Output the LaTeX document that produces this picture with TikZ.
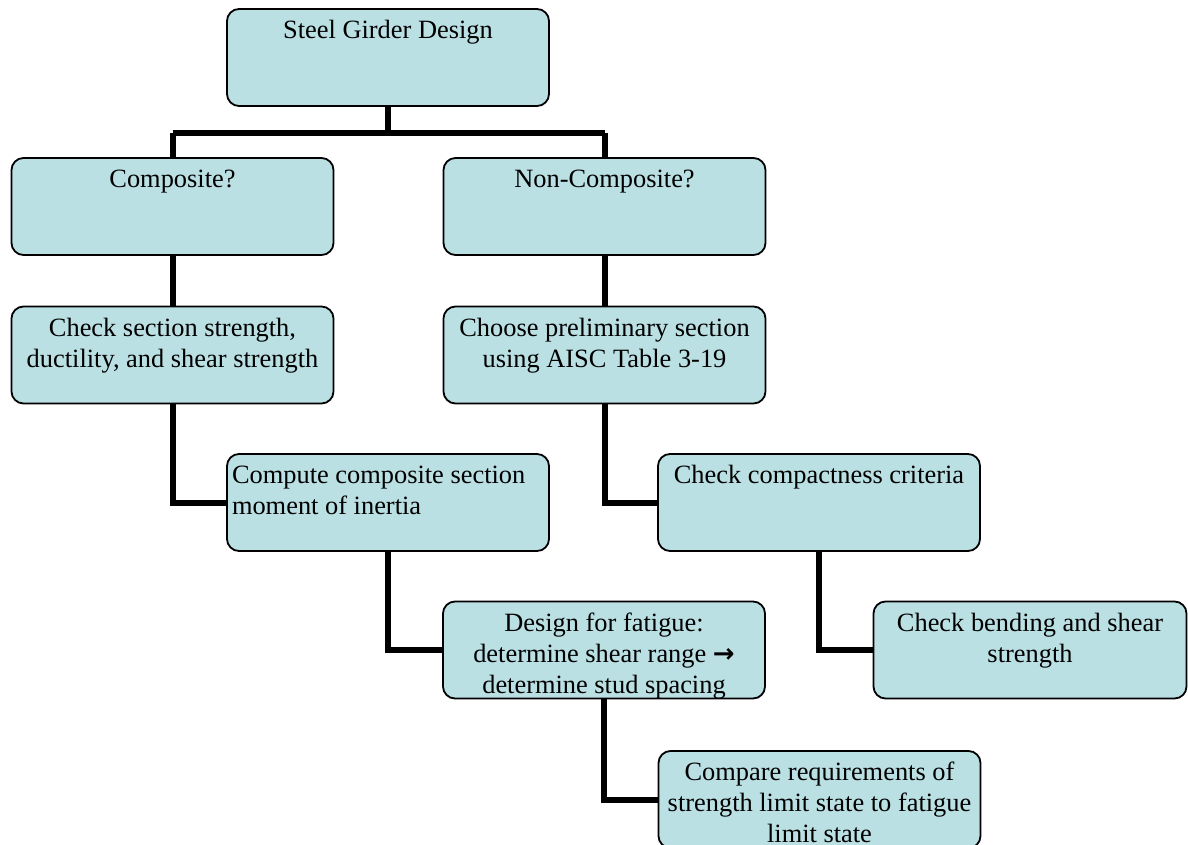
\documentclass[tikz,border=0pt]{standalone}
\usepackage{fontspec}
\setmainfont{Liberation Serif}
\newfontfamily\symfnt{DejaVu Sans}
\definecolor{boxfill}{RGB}{186,224,228}
\newcommand\bxt[2]{\parbox[c][97pt][t]{322pt}{#1\vspace*{8pt}\strut#2}}
\newcommand\bxtw[3]{\parbox[c][97pt][t]{#1}{#2\vspace*{8pt}\strut#3}}
\tikzset{
  stepbox/.style={draw=black, line width=1.8pt, fill=boxfill, rounded corners=12pt,
    inner sep=0pt, outer sep=0pt, font=\fontsize{26.4}{31}\selectfont},
  conn/.style={draw=black, line width=6pt}
}
\begin{document}
\begin{tikzpicture}[x=1pt, y=-1pt]
\useasboundingbox (0,0) rectangle (1188,845);
% connectors
\coordinate (bus) at (388,133);
\coordinate (busL) at (172.5,133);
\coordinate (busR) at (604.5,133);
\path[conn] (388,107) -- (bus);
\path[conn] (busL) -- (busR);
\path[conn] (busL) -- (172.5,157);
\path[conn] (busR) -- (604.5,157);
\path[conn] (172.5,256) -- (172.5,306);
\path[conn] (604.5,256) -- (604.5,306);
\path[conn] (172.5,404) |- (226,502.5);
\path[conn] (604.5,404) |- (658,502.5);
\path[conn] (388,552) |- (442,650);
\path[conn] (819,552) |- (873,650);
\path[conn] (604,698) |- (658,799.5);
% boxes
\node[stepbox] (top)  at (388,57.5)   {\bxt{\centering}{Steel Girder Design}};
\node[stepbox] (comp) at (172.5,206.5) {\bxt{\centering}{Composite?}};
\node[stepbox] (ncomp) at (604.5,206.5) {\bxt{\centering}{Non-Composite?}};
\node[stepbox] (sec)  at (172.5,355)  {\bxt{\centering}{Check section strength,\\ductility, and shear strength}};
\node[stepbox] (pre)  at (604.5,355)  {\bxt{\centering}{Choose preliminary section\\using AISC Table 3-19}};
\node[stepbox] (inert) at (388,502.5) {\bxt{\raggedright\leftskip=5pt\relax}{Compute composite section\\moment of inertia}};
\node[stepbox] (cmpt) at (819,502.5)  {\bxt{\centering}{Check compactness criteria}};
\node[stepbox] (fat)  at (604,650)    {\bxt{\centering}{Design for fatigue:\\determine shear range {\symfnt\bfseries\fontsize{26}{31}\selectfont →}\\determine stud spacing}};
\node[stepbox] (bend) at (1030,650)   {\bxtw{313pt}{\centering}{Check bending and shear\\strength}};
\node[stepbox] (cmpr) at (819.5,799.5) {\bxt{\centering}{Compare requirements of\\strength limit state to fatigue\\limit state}};
\end{tikzpicture}
\end{document}
